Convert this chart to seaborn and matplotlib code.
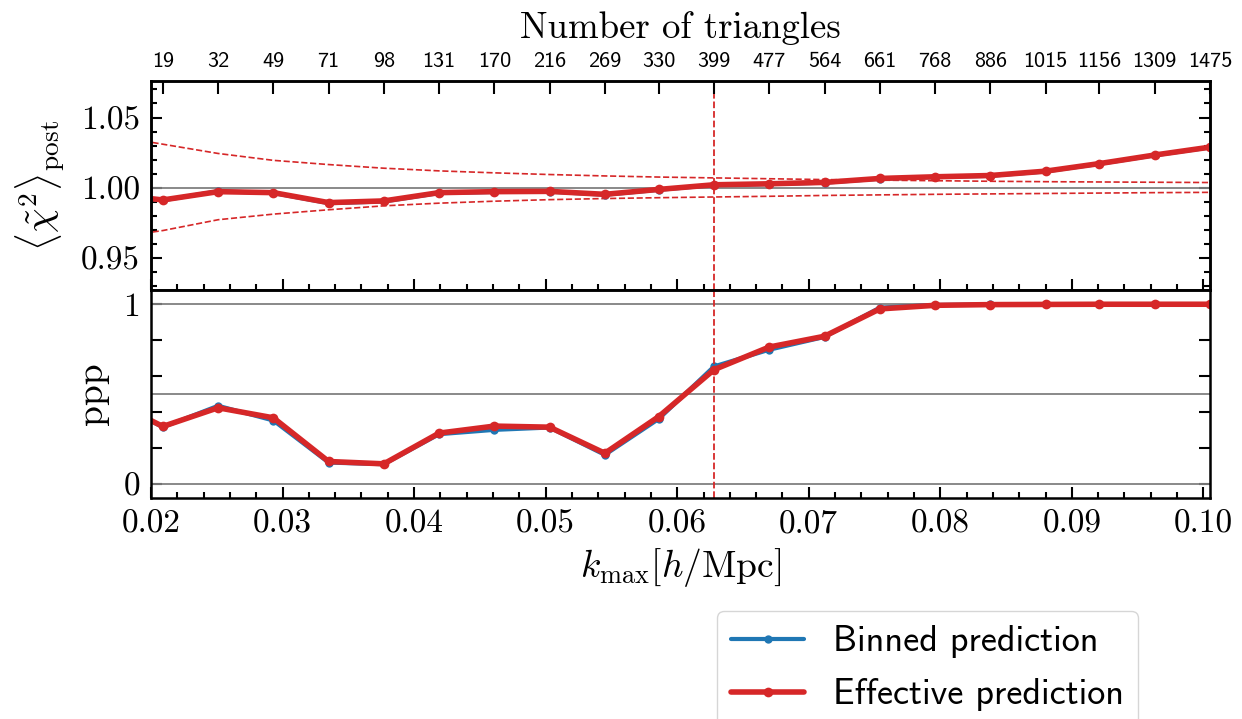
import matplotlib
matplotlib.use("Agg")
import matplotlib.pyplot as plt
from matplotlib.ticker import MultipleLocator
import seaborn as sns

# k_max values (h/Mpc); the first one sits left of the plotted range
k_max = [0.0168, 0.0209, 0.0251, 0.0293, 0.0335, 0.0377, 0.0419, 0.0461, 0.0503, 0.0545, 0.0586,
         0.0628, 0.0670, 0.0712, 0.0754, 0.0796, 0.0838, 0.0880, 0.0921, 0.0963, 0.1005]
n_triangles = [19, 32, 49, 71, 98, 131, 170, 216, 269, 330, 399, 477, 564, 661, 768, 886,
               1015, 1156, 1309, 1475]

chi2_binned = [0.9950, 0.9910, 0.9975, 0.9962, 0.9890, 0.9902, 0.9962, 0.9970, 0.9972, 0.9950, 0.9985,
               1.0019, 1.0026, 1.0036, 1.0064, 1.0076, 1.0085, 1.0116, 1.0170, 1.0231, 1.0287]
chi2_eff = [0.9954, 0.9913, 0.9972, 0.9965, 0.9894, 0.9906, 0.9965, 0.9972, 0.9974, 0.9953, 0.9988,
            1.0021, 1.0028, 1.0038, 1.0066, 1.0078, 1.0087, 1.0118, 1.0172, 1.0233, 1.0289]
chi2_hi = [1.0374, 1.0310, 1.0244, 1.0195, 1.0165, 1.0139, 1.0120, 1.0106, 1.0094, 1.0084, 1.0076,
           1.0070, 1.0064, 1.0058, 1.0054, 1.0050, 1.0046, 1.0043, 1.0041, 1.0039, 1.0037]
chi2_lo = [0.9640, 0.9695, 0.9772, 0.9812, 0.9843, 0.9871, 0.9890, 0.9904, 0.9915, 0.9923, 0.9929,
           0.9934, 0.9939, 0.9945, 0.9949, 0.9953, 0.9956, 0.9959, 0.9962, 0.9965, 0.9967]

ppp_binned = [0.47, 0.316, 0.435, 0.353, 0.119, 0.110, 0.277, 0.301, 0.314, 0.162, 0.362,
              0.654, 0.747, 0.818, 0.981, 0.996, 0.999, 1.0, 1.0, 1.0, 1.0]
ppp_eff = [0.47, 0.320, 0.424, 0.368, 0.125, 0.112, 0.283, 0.322, 0.316, 0.171, 0.375,
           0.636, 0.762, 0.822, 0.974, 0.994, 0.998, 0.999, 1.0, 1.0, 1.0]
k_chosen = 0.0628

blue = "#1f77b4"
red = "#d62728"

sns.set_style("ticks")
plt.rcParams["font.family"] = ["cmr10", "DejaVu Serif"]
plt.rcParams["mathtext.fontset"] = "cm"
plt.rcParams["axes.formatter.use_mathtext"] = True
plt.rcParams["axes.linewidth"] = 1.8
plt.rcParams["axes.edgecolor"] = "black"
plt.rcParams["xtick.color"] = "black"
plt.rcParams["ytick.color"] = "black"
plt.rcParams["text.color"] = "black"
plt.rcParams["axes.labelcolor"] = "black"

fig, (ax1, ax2) = plt.subplots(2, 1, sharex=True, figsize=(12.42, 7.19), dpi=100,
                               gridspec_kw=dict(hspace=0))
fig.subplots_adjust(left=0.1216, right=0.9742, top=0.8873, bottom=0.3074)

# top panel: mean reduced chi2
ax1.axhline(1.0, color="gray", lw=1.3, zorder=1)
sns.lineplot(x=k_max, y=chi2_hi, ax=ax1, color=red, lw=1.2, ls="--", sort=False)
sns.lineplot(x=k_max, y=chi2_lo, ax=ax1, color=red, lw=1.2, ls="--", sort=False)
sns.lineplot(x=k_max, y=chi2_binned, ax=ax1, color=blue, lw=3, marker="o", markersize=6,
             markeredgewidth=0, sort=False)
sns.lineplot(x=k_max, y=chi2_eff, ax=ax1, color=red, lw=4, marker="o", markersize=7,
             markeredgewidth=0, sort=False)
ax1.axvline(k_chosen, color=red, ls="--", lw=1.3)
ax1.set_ylim(0.9275, 1.076)
ax1.set_yticks([0.95, 1.00, 1.05])
ax1.set_yticklabels(["0.95", "1.00", "1.05"])
ax1.yaxis.set_minor_locator(MultipleLocator(0.01))
ax1.set_ylabel(r"$\langle\tilde{\chi}^2\rangle_{\rm post}$", fontsize=28)
ax1.yaxis.set_label_coords(-0.080, 0.5)

# bottom panel: posterior predictive p-value
for yy in [0, 0.5, 1]:
    ax2.axhline(yy, color="gray", lw=1.3, zorder=1)
sns.lineplot(x=k_max, y=ppp_binned, ax=ax2, color=blue, lw=3, marker="o", markersize=6,
             markeredgewidth=0, sort=False, label="Binned prediction")
sns.lineplot(x=k_max, y=ppp_eff, ax=ax2, color=red, lw=4, marker="o", markersize=7,
             markeredgewidth=0, sort=False, label="Effective prediction")
ax2.axvline(k_chosen, color=red, ls="--", lw=1.3)
ax2.set_ylim(-0.078, 1.082)
ax2.set_yticks([0, 0.2, 0.4, 0.6, 0.8, 1])
ax2.set_yticklabels(["0", "", "", "", "", "1"])
ax2.set_ylabel("ppp", fontsize=27)
ax2.yaxis.set_label_coords(-0.040, 0.5)
handles, labels = ax2.get_legend_handles_labels()
ax2.get_legend().remove()

ax2.set_xlim(0.02, 0.1005)
xt = [0.02, 0.03, 0.04, 0.05, 0.06, 0.07, 0.08, 0.09, 0.10]
ax2.set_xticks(xt)
ax2.set_xticklabels(["%.2f" % v for v in xt])
ax2.xaxis.set_minor_locator(MultipleLocator(0.002))

for ax in (ax1, ax2):
    ax.tick_params(which="both", direction="in", top=False, right=True, width=1.5)
    ax.tick_params(which="major", length=8, labelsize=24, pad=8)
    ax.tick_params(which="minor", length=4)
ax1.set_xlabel("")
ax2.set_xlabel(r"$k_{\rm max}[h/{\rm Mpc}]$", fontsize=27, labelpad=6)

# top axis with the number of triangles
ax_top = ax1.twiny()
ax_top.set_xlim(ax1.get_xlim())
ax_top.set_xticks(k_max[1:])
ax_top.set_xticklabels([str(n) for n in n_triangles], family="cmss10", fontsize=16)
ax_top.tick_params(axis="x", direction="in", length=9, width=1.5, pad=7)
ax_top.set_xlabel("Number of triangles", fontsize=26.5, labelpad=10)

fig.legend(handles, labels, loc="upper left", bbox_to_anchor=(699 / 1242, 1 - 593 / 719),
           prop={"family": "cmss10", "size": 26}, labelspacing=0.55, frameon=True,
           fancybox=True, edgecolor="#cccccc", framealpha=0.8)

fig.savefig("out.png", dpi=100)
